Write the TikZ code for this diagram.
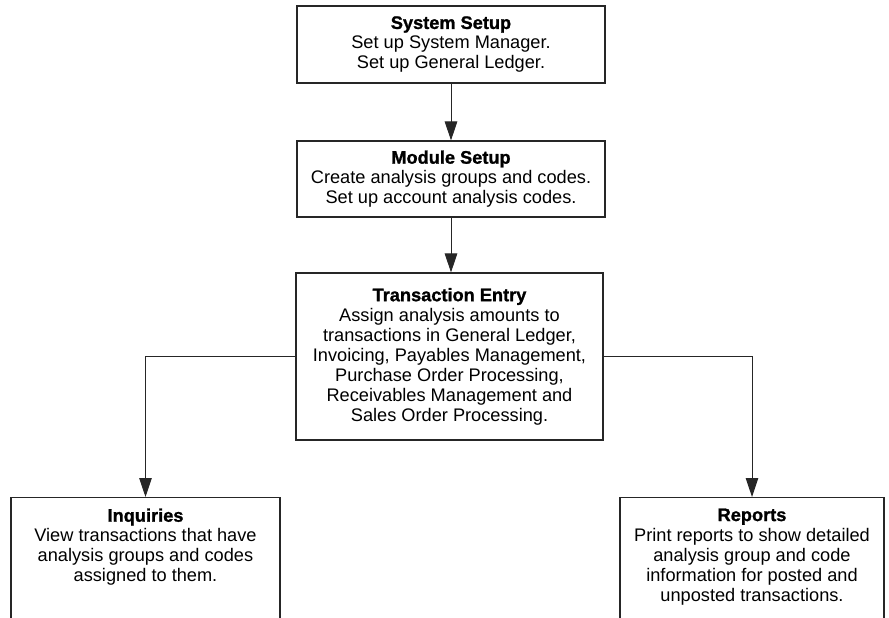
\documentclass[tikz,border=0pt]{standalone}
\usepackage{fontspec}
\setmainfont[BoldFeatures={FakeBold=1.2}]{Liberation Sans}
\usetikzlibrary{arrows.meta}
\tikzset{
  box/.style={draw=black!85, line width=1.1pt, fill=white, align=center,
    font=\fontsize{18.2}{20}\selectfont, inner sep=0pt},
  arr/.style={draw=black!85, line width=1pt, -{Triangle[width=12.5pt,length=19pt]}},
}
\newcommand{\ttl}[1]{\textbf{#1}}
\begin{document}
\begin{tikzpicture}[x=1pt,y=-1pt]
\useasboundingbox (0,0) rectangle (889,618);
\node[box, minimum width=308, minimum height=77] (sys) at (451,44.5)
  {\ttl{System Setup}\\Set up System Manager.\\Set up General Ledger.};
\node[box, minimum width=308, minimum height=76] (mod) at (451,179)
  {\ttl{Module Setup}\\Create analysis groups and codes.\\Set up account analysis codes.};
\node[box, minimum width=307, minimum height=167] (tx) at (449.5,356.5)
  {\ttl{Transaction Entry}\\Assign analysis amounts to\\transactions in General Ledger,\\Invoicing, Payables Management,\\Purchase Order Processing,\\Receivables Management and\\Sales Order Processing.};
\node[box, anchor=north, minimum width=269, inner ysep=11pt] (inq) at (145.5,497)
  {\parbox[t][140pt][t]{262pt}{\centering\ttl{Inquiries}\\View transactions that have\\analysis groups and codes\\assigned to them.}};
\node[box, anchor=north, minimum width=264, inner ysep=11pt] (rep) at (752,497)
  {\parbox[t][140pt][t]{262pt}{\centering\ttl{Reports}\\Print reports to show detailed\\analysis group and code\\information for posted and\\unposted transactions.}};
\draw[arr] (sys.south) -- (mod.north);
\draw[arr] (mod.south) -- (mod.south |- tx.north);
\draw[arr] (tx.west) -| (inq.north);
\draw[arr] (tx.east) -| (rep.north);
\end{tikzpicture}
\end{document}
